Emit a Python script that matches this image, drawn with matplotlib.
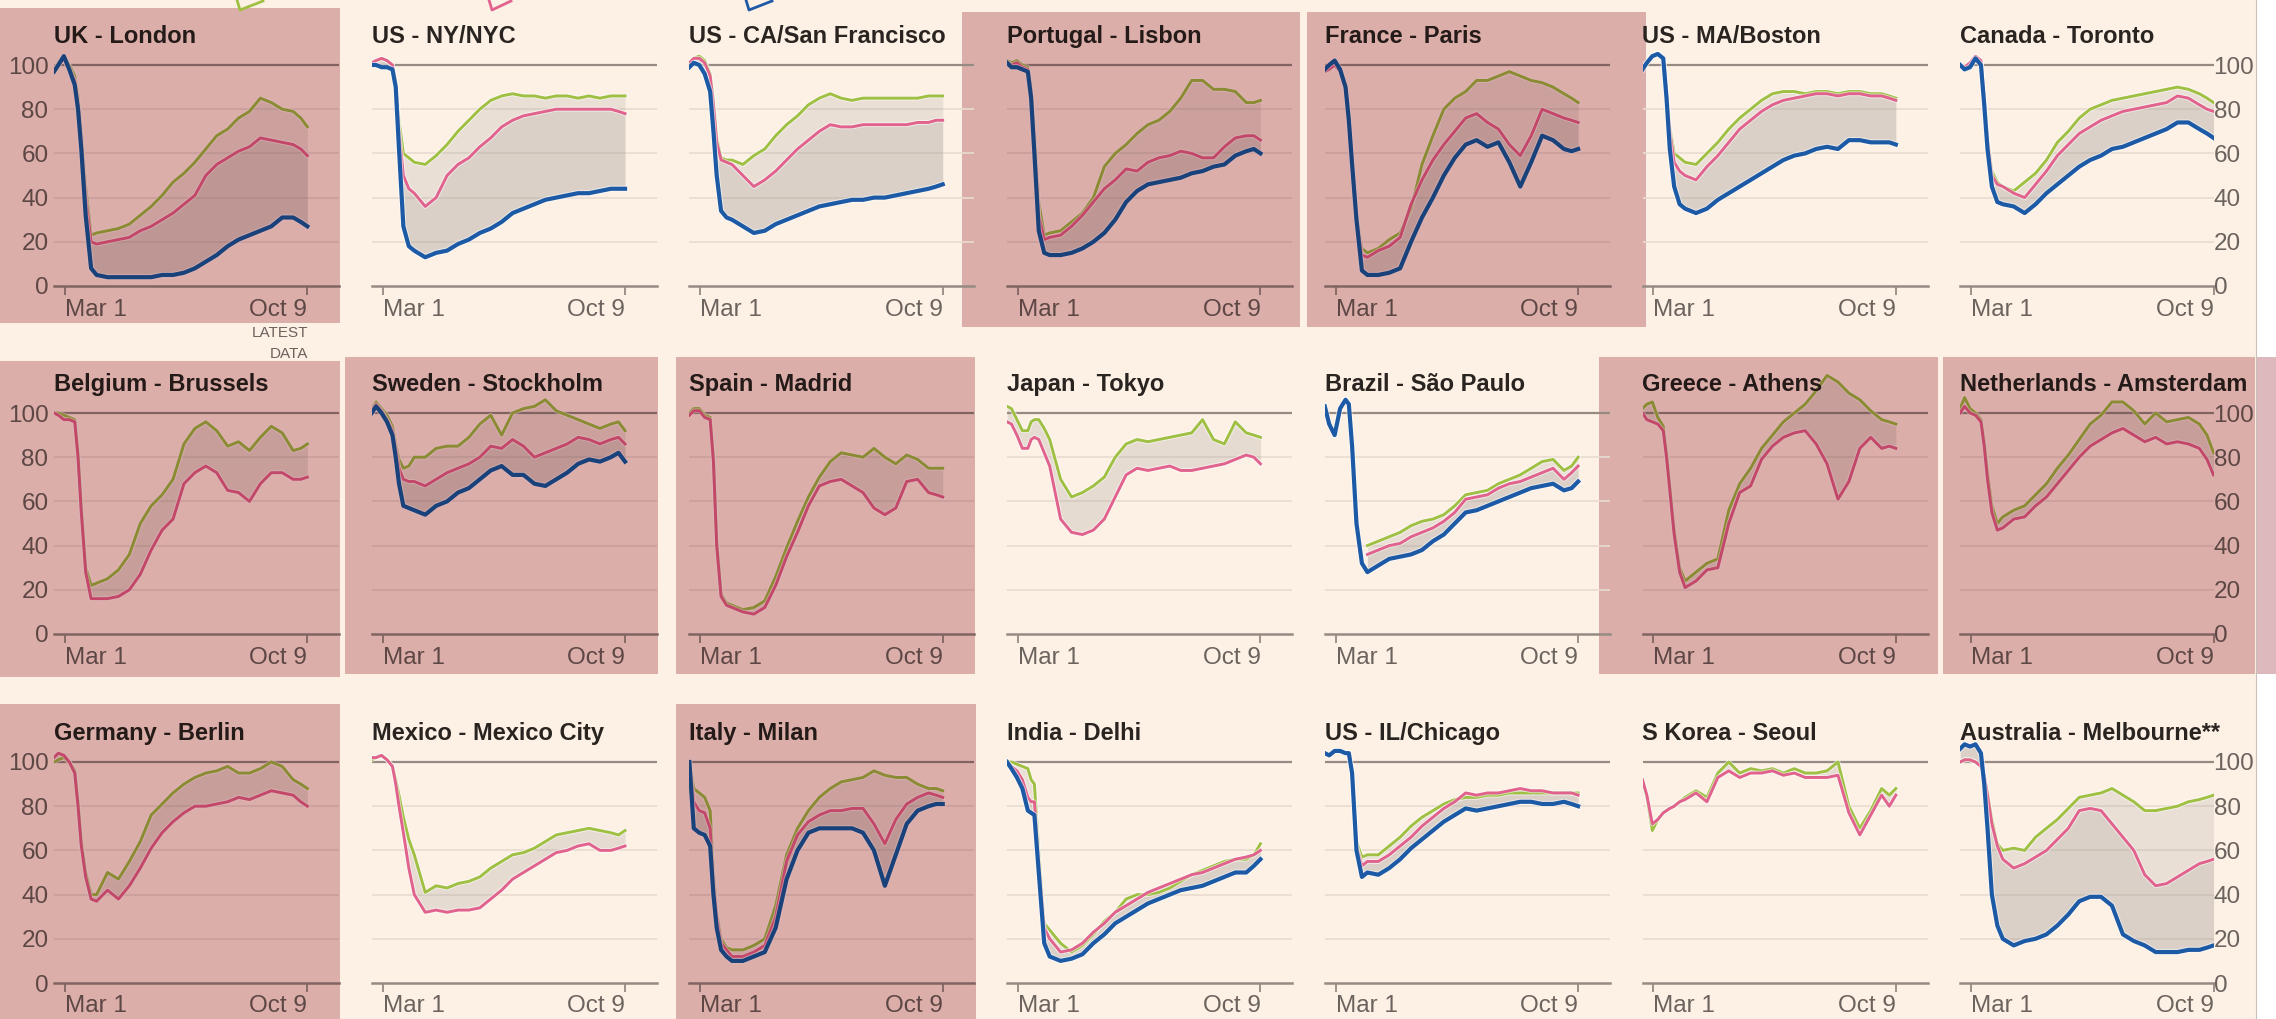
import numpy as np
import matplotlib
matplotlib.use("Agg")
import matplotlib.pyplot as plt
import matplotlib.colors as mcolors
import matplotlib.patheffects as pe
from matplotlib.patches import Rectangle
from matplotlib.lines import Line2D

plt.rcParams["font.family"] = ["Liberation Sans", "DejaVu Sans"]

N = np.nan

# day of year (2020) for every sample
DAYS = [51, 55, 60, 65, 70, 73, 76, 80, 85, 90, 100, 110, 120, 130, 140,
        150, 160, 170, 180, 190, 200, 210, 220, 230, 240, 250, 260, 270, 277, 283]
TICK_DAYS = [61, 283]
TICK_LABELS = ["Mar 1", "Oct 9"]
Y_TICKS = [0, 20, 40, 60, 80, 100]

# ---- row 1 ----
LONDON_GREEN = [98, 101, 104, 100, 95, 86, 70, 45, 23, 24, 25, 26, 28, 32, 36, 41, 47, 51, 56, 62, 68, 71, 76, 79, 85, 83, 80, 79, 76, 72]
LONDON_PINK = [98, 100, 103, 98, 93, 83, 66, 40, 20, 19, 20, 21, 22, 25, 27, 30, 33, 37, 41, 50, 55, 58, 61, 63, 67, 66, 65, 64, 62, 59]
LONDON_BLUE = [97, 100, 104, 98, 91, 80, 62, 32, 8, 5, 4, 4, 4, 4, 4, 5, 5, 6, 8, 11, 14, 18, 21, 23, 25, 27, 31, 31, 29, 27]

NYC_GREEN = [101, 102, 103, 102, 100, 93, 75, 60, 58, 56, 55, 59, 64, 70, 75, 80, 84, 86, 87, 86, 86, 85, 86, 86, 85, 86, 85, 86, 86, 86]
NYC_PINK = [101, 102, 103, 102, 100, 92, 70, 50, 44, 42, 36, 40, 50, 55, 58, 63, 67, 72, 75, 77, 78, 79, 80, 80, 80, 80, 80, 80, 79, 78]
NYC_BLUE = [100, 100, 99, 99, 98, 90, 62, 27, 18, 16, 13, 15, 16, 19, 21, 24, 26, 29, 33, 35, 37, 39, 40, 41, 42, 42, 43, 44, 44, 44]

SF_GREEN = [101, 103, 104, 102, 96, 84, 67, 58, 57, 57, 55, 59, 62, 68, 73, 77, 82, 85, 87, 85, 84, 85, 85, 85, 85, 85, 85, 86, 86, 86]
SF_PINK = [101, 103, 103, 101, 95, 82, 65, 57, 56, 55, 50, 45, 48, 52, 57, 62, 66, 70, 73, 72, 72, 73, 73, 73, 73, 73, 74, 74, 75, 75]
SF_BLUE = [99, 101, 100, 96, 88, 70, 50, 34, 31, 30, 27, 24, 25, 28, 30, 32, 34, 36, 37, 38, 39, 39, 40, 40, 41, 42, 43, 44, 45, 46]

LISBON_GREEN = [102, 101, 102, 100, 99, 90, 70, 38, 23, 24, 25, 29, 33, 40, 54, 60, 64, 69, 73, 75, 79, 85, 93, 93, 89, 89, 88, 83, 83, 84]
LISBON_PINK = [101, 100, 101, 99, 98, 88, 65, 32, 21, 22, 23, 27, 32, 38, 44, 48, 53, 52, 56, 58, 59, 61, 60, 58, 58, 63, 67, 68, 68, 66]
LISBON_BLUE = [101, 99, 99, 98, 97, 85, 60, 25, 15, 14, 14, 15, 17, 20, 24, 30, 38, 43, 46, 47, 48, 49, 51, 52, 54, 55, 59, 61, 62, 60]

PARIS_GREEN = [97, 99, 100, 97, 90, 77, 58, 32, 17, 15, 17, 21, 24, 35, 55, 68, 80, 85, 88, 93, 93, 95, 97, 95, 93, 92, 90, 87, 85, 83]
PARIS_PINK = [97, 98, 100, 97, 90, 76, 56, 30, 14, 13, 16, 18, 22, 37, 48, 57, 64, 70, 76, 78, 74, 71, 64, 59, 68, 80, 78, 76, 75, 74]
PARIS_BLUE = [98, 100, 102, 98, 90, 75, 55, 30, 7, 5, 5, 6, 8, 20, 31, 40, 50, 58, 64, 66, 63, 65, 56, 45, 56, 68, 66, 62, 61, 62]

BOSTON_GREEN = [99, 101, 104, 105, 103, 89, 72, 60, 58, 56, 55, 60, 65, 71, 76, 80, 84, 87, 88, 88, 87, 88, 88, 87, 88, 88, 87, 87, 86, 85]
BOSTON_PINK = [99, 101, 104, 105, 103, 88, 70, 56, 52, 50, 48, 54, 59, 65, 71, 75, 79, 82, 84, 85, 86, 87, 87, 86, 87, 87, 86, 86, 85, 84]
BOSTON_BLUE = [98, 101, 104, 105, 103, 85, 62, 45, 37, 35, 33, 35, 39, 42, 45, 48, 51, 54, 57, 59, 60, 62, 63, 62, 66, 66, 65, 65, 65, 64]

TORONTO_GREEN = [100, 99, 101, 104, 102, 86, 68, 52, 47, 45, 43, 47, 51, 57, 65, 70, 76, 80, 82, 84, 85, 86, 87, 88, 89, 90, 89, 87, 85, 83]
TORONTO_PINK = [100, 99, 101, 104, 102, 85, 66, 50, 46, 45, 42, 40, 46, 52, 59, 64, 69, 72, 75, 77, 79, 80, 81, 82, 83, 86, 85, 82, 80, 79]
TORONTO_BLUE = [100, 98, 99, 103, 100, 82, 62, 45, 38, 37, 36, 33, 37, 42, 46, 50, 54, 57, 59, 62, 63, 65, 67, 69, 71, 74, 74, 71, 69, 67]

# ---- row 2 ----
BRUSSELS_GREEN = [100, 100, 99, 98, 97, 82, 58, 30, 22, 23, 25, 29, 36, 50, 58, 63, 70, 86, 93, 96, 92, 85, 87, 83, 89, 94, 91, 83, 84, 86]
BRUSSELS_PINK = [100, 99, 97, 97, 96, 80, 55, 28, 16, 16, 16, 17, 20, 27, 38, 47, 52, 68, 73, 76, 73, 65, 64, 60, 68, 73, 73, 70, 70, 71]

STOCKHOLM_GREEN = [102, 105, 102, 99, 94, 86, 79, 75, 76, 80, 80, 84, 85, 85, 89, 95, 99, 90, 100, 102, 103, 106, 101, 99, 97, 95, 93, 95, 96, 92]
STOCKHOLM_PINK = [101, 104, 101, 97, 92, 84, 75, 70, 69, 69, 67, 70, 73, 75, 77, 80, 85, 84, 88, 85, 80, 82, 84, 86, 89, 88, 86, 88, 89, 86]
STOCKHOLM_BLUE = [100, 103, 100, 96, 90, 80, 68, 58, 57, 56, 54, 58, 60, 64, 66, 70, 74, 76, 72, 72, 68, 67, 70, 73, 77, 79, 78, 80, 82, 78]

MADRID_GREEN = [100, 102, 102, 99, 98, 80, 42, 18, 14, 13, 11, 12, 15, 26, 39, 51, 62, 71, 78, 82, 81, 80, 84, 80, 77, 81, 79, 75, 75, 75]
MADRID_PINK = [99, 101, 101, 98, 97, 78, 40, 17, 13, 12, 10, 9, 12, 22, 35, 46, 58, 67, 69, 70, 67, 64, 57, 54, 57, 69, 70, 64, 63, 62]

TOKYO_GREEN = [103, 102, 97, 92, 92, 96, 97, 97, 93, 88, 70, 62, 64, 67, 71, 80, 86, 88, 87, 88, 89, 90, 91, 97, 88, 86, 96, 91, 90, 89]
TOKYO_PINK = [96, 95, 90, 84, 84, 88, 89, 88, 82, 76, 52, 46, 45, 47, 52, 62, 72, 75, 74, 75, 76, 74, 74, 75, 76, 77, 79, 81, 80, 77]

SAOPAULO_GREEN = [N, N, N, N, N, N, N, N, N, 40, 42, 44, 46, 49, 51, 52, 54, 58, 63, 64, 65, 68, 70, 72, 75, 78, 79, 74, 76, 80]
SAOPAULO_PINK = [N, N, N, N, N, N, N, N, N, 36, 38, 40, 41, 44, 46, 48, 51, 55, 61, 62, 63, 66, 68, 69, 71, 73, 75, 70, 73, 76]
SAOPAULO_BLUE = [103, 95, 90, 102, 106, 104, 85, 50, 32, 28, 31, 34, 35, 36, 38, 42, 45, 50, 55, 56, 58, 60, 62, 64, 66, 67, 68, 65, 66, 69]

ATHENS_GREEN = [102, 104, 105, 98, 94, 82, 67, 47, 30, 24, 28, 32, 34, 56, 68, 75, 84, 90, 96, 100, 104, 110, 117, 114, 109, 106, 101, 97, 96, 95]
ATHENS_PINK = [100, 97, 96, 95, 92, 80, 65, 45, 28, 21, 24, 29, 30, 50, 64, 67, 79, 85, 89, 91, 92, 86, 77, 61, 69, 84, 89, 84, 85, 84]

AMSTERDAM_GREEN = [102, 107, 102, 100, 97, 87, 73, 58, 50, 53, 56, 58, 63, 68, 75, 81, 88, 95, 99, 105, 105, 101, 95, 100, 96, 97, 98, 95, 90, 82]
AMSTERDAM_PINK = [100, 103, 100, 99, 96, 85, 70, 55, 47, 48, 52, 53, 58, 62, 68, 74, 80, 85, 88, 91, 93, 90, 87, 89, 86, 87, 86, 84, 79, 72]

# ---- row 3 ----
BERLIN_GREEN = [100, 101, 102, 100, 96, 82, 64, 50, 40, 40, 50, 47, 55, 64, 76, 81, 86, 90, 93, 95, 96, 98, 95, 95, 97, 100, 98, 92, 90, 88]
BERLIN_PINK = [102, 104, 103, 100, 95, 80, 62, 48, 38, 37, 42, 38, 44, 52, 61, 68, 73, 77, 80, 80, 81, 82, 84, 83, 85, 87, 86, 85, 82, 80]

MEXICO_GREEN = [101, 102, 103, 101, 98, 92, 85, 75, 65, 58, 41, 44, 43, 45, 46, 48, 52, 55, 58, 59, 61, 64, 67, 68, 69, 70, 69, 68, 67, 69]
MEXICO_PINK = [102, 102, 103, 101, 98, 90, 80, 68, 52, 40, 32, 33, 32, 33, 33, 34, 38, 42, 47, 50, 53, 56, 59, 60, 62, 63, 60, 60, 61, 62]

MILAN_GREEN = [100, 88, 86, 84, 78, 50, 32, 20, 16, 15, 15, 17, 20, 35, 58, 70, 78, 84, 88, 91, 92, 93, 96, 94, 93, 93, 90, 88, 88, 87]
MILAN_PINK = [100, 82, 78, 77, 70, 45, 30, 18, 15, 12, 12, 14, 17, 30, 55, 67, 73, 76, 78, 78, 79, 79, 72, 63, 74, 81, 84, 86, 85, 84]
MILAN_BLUE = [100, 70, 68, 67, 62, 40, 25, 15, 12, 10, 10, 12, 14, 25, 47, 60, 68, 70, 70, 70, 70, 68, 60, 44, 58, 72, 78, 80, 81, 81]

DELHI_GREEN = [100, 100, 99, 98, 97, 92, 90, 60, 27, 24, 18, 14, 17, 22, 28, 32, 38, 40, 40, 41, 43, 46, 49, 51, 53, 55, 56, 56, 58, 63]
DELHI_PINK = [100, 98, 96, 92, 84, 82, 82, 55, 25, 20, 14, 15, 18, 23, 27, 32, 35, 38, 41, 43, 45, 47, 49, 50, 52, 54, 56, 57, 58, 60]
DELHI_BLUE = [100, 97, 93, 88, 78, 77, 76, 50, 18, 12, 10, 11, 13, 18, 22, 27, 30, 33, 36, 38, 40, 42, 43, 44, 46, 48, 50, 50, 53, 56]

CHICAGO_GREEN = [104, 103, 105, 105, 104, 104, 95, 64, 57, 58, 58, 62, 66, 71, 75, 78, 81, 83, 84, 84, 85, 85, 86, 86, 86, 86, 86, 86, 86, 86]
CHICAGO_PINK = [104, 103, 105, 105, 104, 104, 95, 62, 53, 55, 55, 58, 62, 66, 71, 75, 79, 82, 86, 85, 86, 86, 87, 88, 87, 87, 86, 86, 86, 85]
CHICAGO_BLUE = [104, 103, 105, 105, 104, 104, 95, 60, 48, 50, 49, 52, 56, 61, 65, 69, 73, 76, 79, 78, 79, 80, 81, 82, 82, 81, 81, 82, 81, 80]

SEOUL_GREEN = [92, 84, 69, 74, 77, 78, 79, 80, 82, 84, 87, 84, 95, 100, 95, 97, 96, 97, 95, 97, 95, 95, 96, 100, 80, 70, 78, 88, 85, 88]
SEOUL_PINK = [92, 85, 72, 74, 77, 78, 79, 80, 82, 83, 86, 82, 93, 96, 93, 95, 95, 96, 94, 95, 93, 93, 93, 94, 77, 67, 76, 85, 80, 85]

MELBOURNE_GREEN = [100, 101, 101, 100, 98, 94, 86, 74, 63, 60, 61, 60, 66, 70, 74, 79, 84, 85, 86, 88, 85, 82, 78, 78, 79, 80, 82, 83, 84, 85]
MELBOURNE_PINK = [100, 101, 101, 100, 98, 94, 85, 72, 62, 56, 52, 54, 57, 60, 65, 70, 78, 79, 78, 72, 66, 60, 49, 44, 45, 48, 51, 54, 55, 56]
MELBOURNE_BLUE = [106, 108, 107, 108, 104, 90, 70, 40, 26, 20, 17, 19, 20, 22, 26, 31, 37, 39, 39, 35, 22, 19, 17, 14, 14, 14, 15, 15, 16, 17]

# (title, row, col, green, pink, blue, highlighted)
PANELS = [
    ("UK - London", 0, 0, LONDON_GREEN, LONDON_PINK, LONDON_BLUE, True),
    ("US - NY/NYC", 0, 1, NYC_GREEN, NYC_PINK, NYC_BLUE, False),
    ("US - CA/San Francisco", 0, 2, SF_GREEN, SF_PINK, SF_BLUE, False),
    ("Portugal - Lisbon", 0, 3, LISBON_GREEN, LISBON_PINK, LISBON_BLUE, True),
    ("France - Paris", 0, 4, PARIS_GREEN, PARIS_PINK, PARIS_BLUE, True),
    ("US - MA/Boston", 0, 5, BOSTON_GREEN, BOSTON_PINK, BOSTON_BLUE, False),
    ("Canada - Toronto", 0, 6, TORONTO_GREEN, TORONTO_PINK, TORONTO_BLUE, False),
    ("Belgium - Brussels", 1, 0, BRUSSELS_GREEN, BRUSSELS_PINK, None, True),
    ("Sweden - Stockholm", 1, 1, STOCKHOLM_GREEN, STOCKHOLM_PINK, STOCKHOLM_BLUE, True),
    ("Spain - Madrid", 1, 2, MADRID_GREEN, MADRID_PINK, None, True),
    ("Japan - Tokyo", 1, 3, TOKYO_GREEN, TOKYO_PINK, None, False),
    ("Brazil - São Paulo", 1, 4, SAOPAULO_GREEN, SAOPAULO_PINK, SAOPAULO_BLUE, False),
    ("Greece - Athens", 1, 5, ATHENS_GREEN, ATHENS_PINK, None, True),
    ("Netherlands - Amsterdam", 1, 6, AMSTERDAM_GREEN, AMSTERDAM_PINK, None, True),
    ("Germany - Berlin", 2, 0, BERLIN_GREEN, BERLIN_PINK, None, True),
    ("Mexico - Mexico City", 2, 1, MEXICO_GREEN, MEXICO_PINK, None, False),
    ("Italy - Milan", 2, 2, MILAN_GREEN, MILAN_PINK, MILAN_BLUE, True),
    ("India - Delhi", 2, 3, DELHI_GREEN, DELHI_PINK, DELHI_BLUE, False),
    ("US - IL/Chicago", 2, 4, CHICAGO_GREEN, CHICAGO_PINK, CHICAGO_BLUE, False),
    ("S Korea - Seoul", 2, 5, SEOUL_GREEN, SEOUL_PINK, None, False),
    ("Australia - Melbourne**", 2, 6, MELBOURNE_GREEN, MELBOURNE_PINK, MELBOURNE_BLUE, False),
]

# highlight boxes in pixels: x0, x1, y0, y1 (from top)
BOXES = [(0, 340, 8, 323), (962, 1300, 12, 327), (1307, 1646, 12, 327),
         (0, 340, 361, 677), (345, 658, 357, 674), (676, 975, 357, 674),
         (1599, 1938, 357, 674), (1943, 2255, 357, 674),
         (0, 340, 704, 1019), (676, 976, 704, 1019)]

CREAM = "#fdf1e6"
GREEN = "#9fc043"; PINK = "#e0628d"; BLUE = "#1d5aa5"
GRID_DARK = "#958b83"; GRID_LIGHT = "#e8dcd1"; FILL = "#8c8680"
TEXT = "#2a2421"; TICK = "#6b635d"
HL_MUL = np.array([0.868, 0.722, 0.740])

W, H = 2276, 1019
COL_X = [54 + c * 317.7 for c in range(7)]
ROW_Y0 = [286, 634, 983]
PX_DAY = 1.092; PX_UNIT = 2.21; YTOP = 120; DAY0 = 51


def tint(c, hl):
    rgb = np.array(mcolors.to_rgb(c))
    return tuple(rgb * HL_MUL) if hl else tuple(rgb)


fig = plt.figure(figsize=(W / 100, H / 100), dpi=100)
fig.patch.set_facecolor(CREAM)

fig.add_artist(Rectangle((2256 / W, 0), 20 / W, 1, transform=fig.transFigure,
                         facecolor="white", edgecolor="none", zorder=-3))
for x0, x1, y0, y1 in BOXES:
    fig.add_artist(Rectangle((x0 / W, 1 - y1 / H), (x1 - x0) / W, (y1 - y0) / H,
                             transform=fig.transFigure, facecolor=tint(CREAM, True),
                             edgecolor="none", zorder=-2))
fig.add_artist(Rectangle((2256 / W, 1 - 674 / H), 20 / W, 317 / H, transform=fig.transFigure,
                         facecolor=tint("white", True), edgecolor="none", zorder=-2))
fig.add_artist(Line2D([2255.5 / W] * 2, [0, 1], transform=fig.transFigure,
                      color="#c9c0ba", lw=0.8, zorder=-1))


def draw_line(ax, y, color, lw, hl, z):
    ax.plot(DAYS, y, color=tint(color, hl), lw=lw, zorder=z, solid_joinstyle="round",
            path_effects=[pe.Stroke(linewidth=lw + 1.4, foreground=tint("white", hl), alpha=0.55),
                          pe.Normal()])


for name, row, col, green, pink, blue, hl in PANELS:
    right = 283 if col == 6 else 312
    w = (right - DAY0) * PX_DAY
    ax = fig.add_axes([COL_X[col] / W, (H - ROW_Y0[row]) / H, w / W, YTOP * PX_UNIT / H])
    ax.set_xlim(DAY0, right)
    ax.set_ylim(0, YTOP)
    ax.patch.set_visible(False)
    for s in ax.spines.values():
        s.set_visible(False)

    for v in (20, 40, 60, 80):
        ax.axhline(v, color=tint(GRID_LIGHT, hl), lw=1.2, zorder=1)
    ax.axhline(100, color=tint(GRID_DARK, hl), lw=1.6, zorder=1)
    ax.axhline(0, color=tint(GRID_DARK, hl), lw=1.8, zorder=1, clip_on=False)

    g = np.array(green, float); p = np.array(pink, float)
    if blue is None:
        ax.fill_between(DAYS, g, p, color=tint(FILL, hl), alpha=0.2, lw=0, zorder=2)
    else:
        b = np.array(blue, float)
        ax.fill_between(DAYS, g, p, color=tint(FILL, hl), alpha=0.16, lw=0, zorder=2)
        ax.fill_between(DAYS, p, b, color=tint(FILL, hl), alpha=0.3, lw=0, zorder=2)

    draw_line(ax, g, GREEN, 2.1, hl, 3)
    draw_line(ax, p, PINK, 2.1, hl, 4)
    if blue is not None:
        draw_line(ax, b, BLUE, 3.0, hl, 5)

    ax.text(DAY0, 113, name, fontsize=17, fontweight="bold", color=tint(TEXT, hl),
            ha="left", va="center", clip_on=False, zorder=6)

    ax.set_xticks(TICK_DAYS, TICK_LABELS)
    ax.tick_params(axis="x", length=6.5, width=1.3, color=tint(GRID_DARK, hl),
                   labelsize=17.5, labelcolor=tint(TICK, hl), pad=2.5)
    lbls = ax.get_xticklabels()
    lbls[0].set_ha("left"); lbls[1].set_ha("right")

    if col == 0:
        ax.set_yticks(Y_TICKS)
        ax.tick_params(axis="y", length=0, pad=4, labelsize=17.5, labelcolor=tint(TICK, hl))
    elif col == 6:
        ax.yaxis.tick_right()
        ax.set_yticks(Y_TICKS)
        ax.tick_params(axis="y", length=0, pad=0, labelsize=17.5, labelcolor=tint(TICK, hl))
    else:
        ax.set_yticks([])

# "latest data" note under the first panel
fig.text(308 / W, 1 - 333 / H, "LATEST", fontsize=11, color=TICK, ha="right", va="center")
fig.text(308 / W, 1 - 354 / H, "DATA", fontsize=11, color=TICK, ha="right", va="center")

# cut-off ends of the legend pointers at the very top
for xs, c in (([237, 240, 263], GREEN), ([489, 492, 511], PINK), ([746, 749, 772], BLUE)):
    fig.add_artist(Line2D([x / W for x in xs], [1 - 0 / H, 1 - 10 / H, 1 - 1 / H],
                          transform=fig.transFigure, color=c, lw=2.0, zorder=1))

fig.savefig("out.png", dpi=100, facecolor=fig.get_facecolor())
